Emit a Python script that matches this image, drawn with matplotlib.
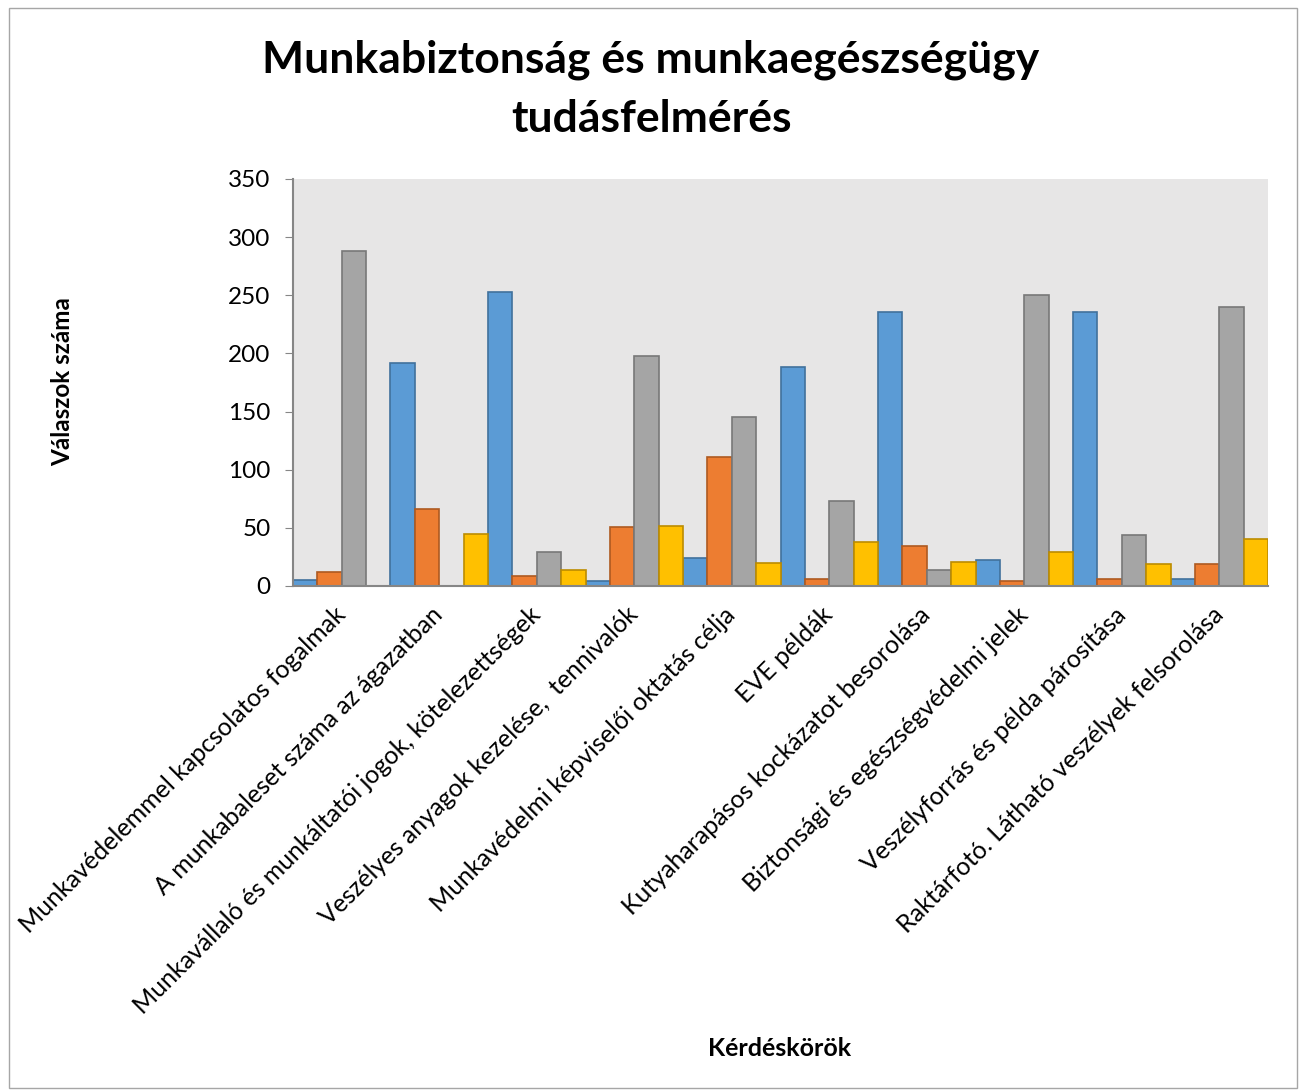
import numpy as np
import matplotlib
matplotlib.use("Agg")
import matplotlib.pyplot as plt
from matplotlib.patches import Rectangle

plt.rcParams['font.family'] = ['Lato', 'DejaVu Sans']

categories = [
    "Munkavédelemmel kapcsolatos fogalmak",
    "A munkabaleset száma az ágazatban",
    "Munkavállaló és munkáltatói jogok, kötelezettségek",
    "Veszélyes anyagok kezelése,  tennivalók",
    "Munkavédelmi képviselői oktatás célja",
    "EVE példák",
    "Kutyaharapásos kockázatot besorolása",
    "Biztonsági és egészségvédelmi jelek",
    "Veszélyforrás és példa párosítása",
    "Raktárfotó. Látható veszélyek felsorolása",
]
blue = [5, 192, 253, 4, 24, 188, 236, 22, 236, 6]
orange = [12, 66, 9, 51, 111, 6, 34, 4, 6, 19]
gray = [288, 0, 29, 198, 145, 73, 14, 250, 44, 240]
yellow = [0, 45, 14, 52, 20, 38, 21, 29, 19, 40]

series = [blue, orange, gray, yellow]
fills = ['#5B9BD5', '#ED7D31', '#A5A5A5', '#FFC000']
edges = ['#41719C', '#AE5A21', '#787878', '#BC8C00']

fig = plt.figure(figsize=(13.02, 10.9), dpi=100)
fig.patches.append(Rectangle((0.007, 0.002), 0.989, 0.991, transform=fig.transFigure,
                             fill=False, edgecolor='#A6A6A6', linewidth=1))

ax = fig.add_axes([0.225, 0.4624, 0.749, 0.3734])
ax.set_facecolor('#E7E6E6')

x = np.arange(len(categories))
w = 0.25
for i, (vals, fc, ec) in enumerate(zip(series, fills, edges)):
    ax.bar(x - 0.375 + i * w, vals, width=w, color=fc, edgecolor=ec, linewidth=1.2, zorder=2)

ax.set_xlim(-0.5, len(categories) - 0.5)
ax.set_ylim(0, 350)
ax.set_yticks(range(0, 351, 50))
ax.tick_params(axis='y', labelsize=17.5, length=6, color='#868686', pad=10)
ax.tick_params(axis='x', length=0, pad=18)
ax.set_xticks(x)
ax.set_xticklabels(categories, rotation=45, ha='right', va='center',
                   rotation_mode='anchor', fontsize=18)

for s in ['top', 'right']:
    ax.spines[s].set_visible(False)
for s in ['left', 'bottom']:
    ax.spines[s].set_color('#868686')
    ax.spines[s].set_linewidth(1.5)

fig.text(0.5, 0.945, "Munkabiztonság és munkaegészségügy", ha='center', va='center',
         fontsize=32, fontweight='bold')
fig.text(0.5, 0.891, "tudásfelmérés", ha='center', va='center',
         fontsize=32, fontweight='bold')
fig.text(0.048, 0.65, "Válaszok száma", rotation=90, ha='center', va='center',
         fontsize=17.5, fontweight='bold')
fig.text(0.599, 0.038, "Kérdéskörök", ha='center', va='center',
         fontsize=18, fontweight='bold')

fig.savefig("out.png", dpi=100)
